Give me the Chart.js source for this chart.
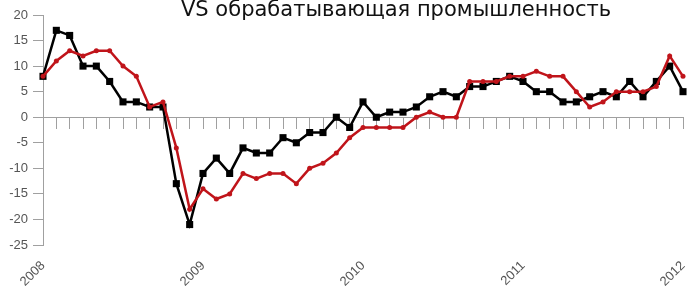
<!DOCTYPE html>
<html>
<head>
<meta charset="utf-8">
<script src="https://cdn.jsdelivr.net/npm/chart.js@4.4.1/dist/chart.umd.min.js"></script>
<style>
  html, body { margin: 0; padding: 0; background: #fff; }
  #wrap { position: relative; width: 688px; height: 290px; overflow: hidden; }
  #title {
    position: absolute; left: 181px; top: -3px;
    font-family: "DejaVu Sans", sans-serif; font-size: 21px; color: #111;
    white-space: nowrap;
  }
</style>
</head>
<body>
<div id="wrap">
  <canvas id="c" width="688" height="290"></canvas>
  <div id="title">VS обрабатывающая промышленность</div>
</div>
<script>
// monthly points, Jan 2008 .. Jan 2012
var years = ["2008", "2009", "2010", "2011", "2012"];
var months = [];
for (var y = 0; y < 4; y++) {
  for (var m = 1; m <= 12; m++) {
    months.push(years[y] + "-" + (m < 10 ? "0" + m : m));
  }
}
months.push("2012-01");

// black series (squares)
var seriesBlack = [
  8, 17, 16, 10, 10, 7, 3, 3, 2, 2, -13, -21,
  -11, -8, -11, -6, -7, -7, -4, -5, -3, -3, 0, -2,
  3, 0, 1, 1, 2, 4, 5, 4, 6, 6, 7, 8,
  7, 5, 5, 3, 3, 4, 5, 4, 7, 4, 7, 10,
  5
];
// red series (dots)
var seriesRed = [
  8, 11, 13, 12, 13, 13, 10, 8, 2, 3, -6, -18,
  -14, -16, -15, -11, -12, -11, -11, -13, -10, -9, -7, -4,
  -2, -2, -2, -2, 0, 1, 0, 0, 7, 7, 7, 8,
  8, 9, 8, 8, 5, 2, 3, 5, 5, 5, 6, 12,
  8
];

var axisGray = "#a0a0a0";

const ctx = document.getElementById("c").getContext("2d");
new Chart(ctx, {
  type: "line",
  data: {
    labels: months,
    datasets: [
      {
        label: "black",
        data: seriesBlack,
        borderColor: "#000000",
        backgroundColor: "#000000",
        borderWidth: 2.5,
        pointStyle: "rect",
        pointRadius: 5,
        pointBorderWidth: 0,
        tension: 0,
        order: 1,
      },
      {
        label: "red",
        data: seriesRed,
        borderColor: "#c0141a",
        backgroundColor: "#c0141a",
        borderWidth: 2.5,
        pointStyle: "circle",
        pointRadius: 2.5,
        pointBorderWidth: 0,
        tension: 0,
        order: 0,
      },
    ],
  },
  options: {
    responsive: false,
    animation: false,
    devicePixelRatio: 1,
    layout: { padding: { top: 15, right: 5, left: 0, bottom: 0 } },
    plugins: {
      legend: { display: false },
      tooltip: { enabled: false },
      title: { display: false },
    },
    scales: {
      x: {
        type: "category",
        position: "bottom",
        offset: false,
        grid: { display: false, drawTicks: false },
        border: { display: false },
        ticks: {
          autoSkip: false,
          minRotation: 45,
          maxRotation: 45,
          padding: 13,
          color: "#555",
          font: { family: "Liberation Sans", size: 13 },
          callback: function (value, index) {
            return index % 12 === 0 ? years[index / 12] : "";
          },
        },
        afterFit: function (scale) {
          scale.height = 45;
          scale.paddingLeft = 0;
          scale.paddingRight = 0;
        },
      },
      xTicks: {
        type: "category",
        labels: months,
        position: { y: 0 },
        offset: false,
        grid: {
          drawOnChartArea: false,
          drawTicks: true,
          tickLength: 11,
          color: axisGray,
          lineWidth: 1,
        },
        border: { display: true, color: axisGray, width: 1 },
        ticks: { display: false, autoSkip: false },
        afterFit: function (scale) {
          scale.paddingLeft = 0;
          scale.paddingRight = 0;
        },
      },
      y: {
        min: -25,
        max: 20,
        grid: {
          drawOnChartArea: false,
          drawTicks: true,
          tickLength: 10,
          color: axisGray,
        },
        border: { display: true, color: axisGray, width: 1 },
        ticks: {
          stepSize: 5,
          padding: 5,
          color: "#555",
          font: { family: "Liberation Sans", size: 13 },
        },
        afterFit: function (scale) { scale.width = 43; },
      },
    },
  },
});
</script>
</body>
</html>
